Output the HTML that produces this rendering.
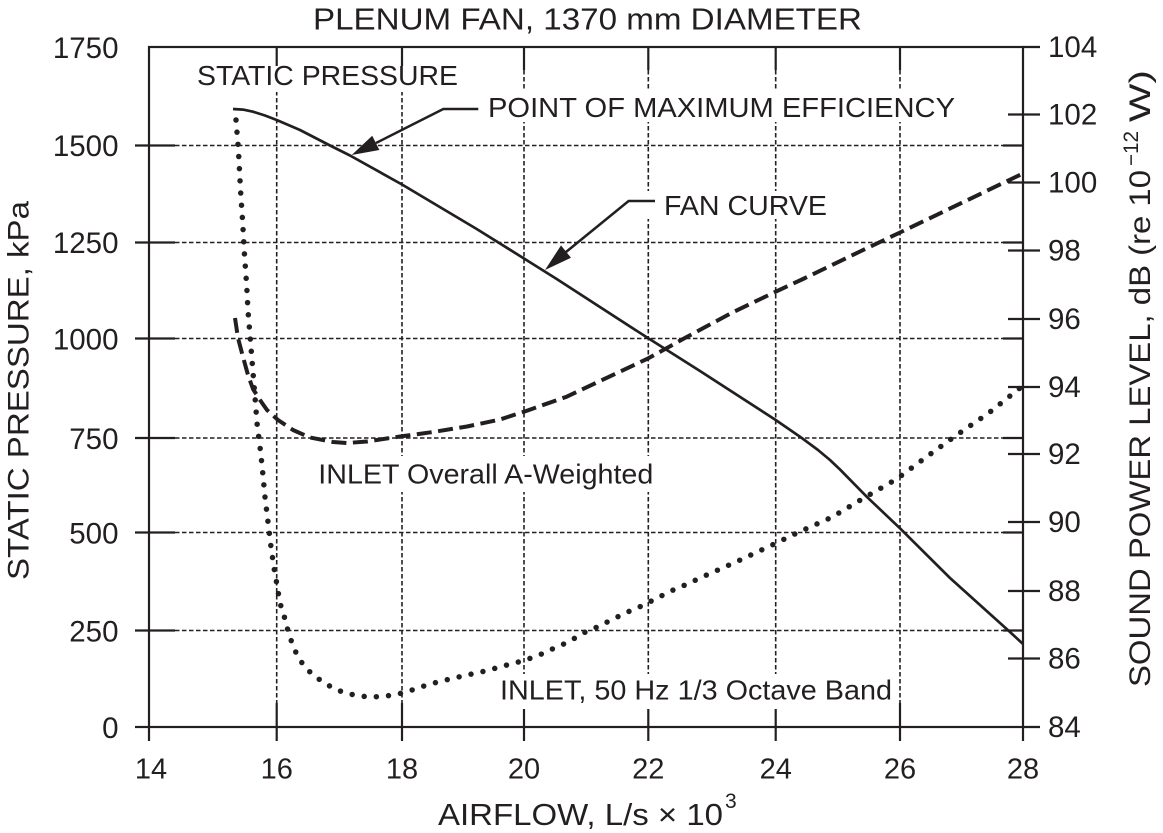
<!DOCTYPE html>
<html>
<head>
<meta charset="utf-8">
<style>
  html, body { margin: 0; padding: 0; background: #ffffff; }
  svg { display: block; }
  text { font-family: "Liberation Sans", Arial, sans-serif; fill: #231f20; }
</style>
</head>
<body>
<svg xmlns="http://www.w3.org/2000/svg" width="1163" height="833" viewBox="0 0 1163 833">
  <rect x="0" y="0" width="1163" height="833" fill="#ffffff"/>

  <!-- dashed grid lines -->
  <g stroke="#231f20" stroke-width="1.6" stroke-dasharray="4.5 2.5" fill="none">
    <line x1="175" y1="145.5" x2="1003" y2="145.5"/>
    <line x1="175" y1="242.5" x2="1003" y2="242.5"/>
    <line x1="175" y1="338.5" x2="1003" y2="338.5"/>
    <line x1="175" y1="438" x2="1003" y2="438"/>
    <line x1="175" y1="532.5" x2="1003" y2="532.5"/>
    <line x1="175" y1="630.5" x2="1003" y2="630.5"/>
    <line x1="276.7" y1="70" x2="276.7" y2="703"/>
    <line x1="402" y1="70" x2="402" y2="703"/>
    <line x1="524" y1="70" x2="524" y2="703"/>
    <line x1="648.3" y1="70" x2="648.3" y2="703"/>
    <line x1="775.7" y1="70" x2="775.7" y2="703"/>
    <line x1="900" y1="70" x2="900" y2="703"/>
  </g>

  <!-- solid ticks -->
  <g stroke="#231f20" stroke-width="2.2" fill="none">
    <line x1="135" y1="145.5" x2="175" y2="145.5"/>
    <line x1="135" y1="242.5" x2="175" y2="242.5"/>
    <line x1="135" y1="338.5" x2="175" y2="338.5"/>
    <line x1="135" y1="438" x2="175" y2="438"/>
    <line x1="135" y1="532.5" x2="175" y2="532.5"/>
    <line x1="135" y1="630.5" x2="175" y2="630.5"/>
    <line x1="135" y1="727" x2="149" y2="727"/>
    <line x1="1003" y1="145.5" x2="1023" y2="145.5"/>
    <line x1="1003" y1="242.5" x2="1023" y2="242.5"/>
    <line x1="1003" y1="338.5" x2="1023" y2="338.5"/>
    <line x1="1003" y1="438" x2="1023" y2="438"/>
    <line x1="1003" y1="532.5" x2="1023" y2="532.5"/>
    <line x1="1003" y1="630.5" x2="1023" y2="630.5"/>
    <line x1="1023" y1="47" x2="1040" y2="47"/>
    <line x1="1008" y1="114.5" x2="1040" y2="114.5"/>
    <line x1="1008" y1="182.5" x2="1040" y2="182.5"/>
    <line x1="1008" y1="250.5" x2="1040" y2="250.5"/>
    <line x1="1008" y1="319" x2="1040" y2="319"/>
    <line x1="1008" y1="387" x2="1040" y2="387"/>
    <line x1="1008" y1="454" x2="1040" y2="454"/>
    <line x1="1008" y1="522" x2="1040" y2="522"/>
    <line x1="1008" y1="591" x2="1040" y2="591"/>
    <line x1="1008" y1="658.5" x2="1040" y2="658.5"/>
    <line x1="1023" y1="727" x2="1040" y2="727"/>
    <line x1="149" y1="727" x2="149" y2="741"/>
    <line x1="276.7" y1="703" x2="276.7" y2="741"/>
    <line x1="402" y1="703" x2="402" y2="741"/>
    <line x1="524" y1="703" x2="524" y2="741"/>
    <line x1="648.3" y1="703" x2="648.3" y2="741"/>
    <line x1="775.7" y1="703" x2="775.7" y2="741"/>
    <line x1="900" y1="703" x2="900" y2="741"/>
    <line x1="1023" y1="727" x2="1023" y2="741"/>
    <line x1="276.7" y1="47" x2="276.7" y2="70"/>
    <line x1="402" y1="47" x2="402" y2="70"/>
    <line x1="524" y1="47" x2="524" y2="70"/>
    <line x1="648.3" y1="47" x2="648.3" y2="70"/>
    <line x1="775.7" y1="47" x2="775.7" y2="70"/>
    <line x1="900" y1="47" x2="900" y2="70"/>
    <rect x="149" y="47" width="874" height="680"/>
  </g>

  <!-- white label backgrounds -->
  <g fill="#ffffff">
    <rect x="190" y="66" width="275" height="26"/>
    <rect x="483" y="91" width="477" height="31"/>
    <rect x="640" y="191" width="193" height="28"/>
    <rect x="313" y="456" width="346" height="36"/>
    <rect x="494" y="674" width="401" height="35"/>
  </g>

  <!-- fan curve (solid) -->
  <path d="M233,109 L243,109.6 L253,111.7 L265,115.5 L276.7,120 L300,130 L330,145.5 L350,155.5 L402,184.5 L476.7,229 L524,258.5 L556.7,279 L648.3,338.3 L700,371 L775.7,420 L800,436.7 L818,450 L830,460 L840,469.5 L866.7,496.7 L900,528.3 L950,578 L1010,632 L1023,644"
        fill="none" stroke="#231f20" stroke-width="2.7" stroke-linejoin="round"/>

  <!-- overall A-weighted (dashed) -->
  <path d="M235,318 L238,338 L243,357 L248,375 L253,389 L260,400 L267,410 L278,420 L293,430 L310,437.5 L333,442 L347,443 L367,441.5 L400,436.5 L433,432 L467,426.5 L500,419.5 L524,411.7 L566.7,396.7 L600,381 L648.3,358.3 L686.7,337 L733.3,312 L775.7,291.7 L803,279 L860,251.5 L900,232.5 L1026,172"
        fill="none" stroke="#231f20" stroke-width="4" stroke-dasharray="15 6.5" stroke-linejoin="round"/>

  <!-- 50 Hz band (dotted) -->
  <path d="M236,120 L237.3,136 L238.3,148 L239,161 L239.7,174 L240.3,186 L241,198 L242,212 L242.7,223 L244.5,255 L246.7,285.7 L248,311 L250,335 L252,360 L255,397 L257,423 L260,447 L262,465 L265,497 L268,522 L271,547 L274,568 L277,585 L280,603 L285,619 L288,631 L292,643 L297,655 L304,666 L313,675 L323,682 L333,688 L345,693 L357,695.5 L369,697 L382,696.5 L394,695 L406,692 L418,688 L430,684 L442,681 L454,678 L467,675 L479,672.5 L491,669.5 L503,666 L515,663 L526.7,659.5 L538.3,655.5 L550,650 L561.7,645 L571.7,640 L583.3,633 L595,628 L606.7,622.3 L616.7,617.3 L628.3,611.7 L640,606.7 L650,601.7 L661.7,595.7 L673.3,590 L685,585 L706.7,575 L741.7,559.3 L775.7,543.3 L798.3,532.3 L831.7,517.3 L863.3,498.3 L896.7,479 L926.7,456.7 L956.7,435 L988.3,413.3 L1020,388"
        fill="none" stroke="#231f20" stroke-width="5.5" stroke-dasharray="0 12.2" stroke-linecap="round" stroke-linejoin="round"/>

  <!-- leaders and arrows -->
  <g stroke="#231f20" stroke-width="2.5" fill="none">
    <polyline points="478.3,109 443.3,109 376,143"/>
    <polyline points="655,201 628.6,201 566,252"/>
  </g>
  <g fill="#231f20">
    <polygon points="351.7,155 379.4,150 372.2,135.7"/>
    <polygon points="545,270 571,257.8 561,245.4"/>
  </g>

  <!-- title -->
  <text x="313" y="29.5" font-size="31" textLength="549" lengthAdjust="spacingAndGlyphs">PLENUM FAN, 1370 mm DIAMETER</text>

  <!-- annotation labels -->
  <text x="197" y="85" font-size="28" textLength="261" lengthAdjust="spacingAndGlyphs">STATIC PRESSURE</text>
  <text x="488" y="117" font-size="28" textLength="467" lengthAdjust="spacingAndGlyphs">POINT OF MAXIMUM EFFICIENCY</text>
  <text x="664" y="215" font-size="28" textLength="163" lengthAdjust="spacingAndGlyphs">FAN CURVE</text>
  <text x="318.3" y="483.3" font-size="28" textLength="335" lengthAdjust="spacingAndGlyphs">INLET Overall A-Weighted</text>
  <text x="500" y="699.3" font-size="28" textLength="392" lengthAdjust="spacingAndGlyphs">INLET, 50 Hz 1/3 Octave Band</text>

  <!-- left tick labels -->
  <g font-size="29.5" text-anchor="end">
    <text x="118.5" y="58">1750</text>
    <text x="118.5" y="156">1500</text>
    <text x="118.5" y="253">1250</text>
    <text x="118.5" y="349.5">1000</text>
    <text x="118.5" y="449">750</text>
    <text x="118.5" y="543.5">500</text>
    <text x="118.5" y="641.5">250</text>
    <text x="118.5" y="738">0</text>
  </g>

  <!-- right tick labels -->
  <g font-size="29.5" text-anchor="start">
    <text x="1048" y="57">104</text>
    <text x="1048" y="124.5">102</text>
    <text x="1048" y="192.5">100</text>
    <text x="1048" y="260.5">98</text>
    <text x="1048" y="329">96</text>
    <text x="1048" y="397">94</text>
    <text x="1048" y="464">92</text>
    <text x="1048" y="532">90</text>
    <text x="1048" y="601">88</text>
    <text x="1048" y="668.5">86</text>
    <text x="1048" y="737">84</text>
  </g>

  <!-- bottom tick labels -->
  <g font-size="29" text-anchor="middle">
    <text x="151" y="778.3">14</text>
    <text x="276.7" y="778.3">16</text>
    <text x="402" y="778.3">18</text>
    <text x="524" y="778.3">20</text>
    <text x="648.3" y="778.3">22</text>
    <text x="775.7" y="778.3">24</text>
    <text x="900" y="778.3">26</text>
    <text x="1023" y="778.3">28</text>
  </g>

  <!-- x axis title -->
  <text x="438" y="825" font-size="31" textLength="285" lengthAdjust="spacingAndGlyphs">AIRFLOW, L/s × 10</text>
  <text x="725" y="808" font-size="21">3</text>

  <!-- left axis title -->
  <text transform="translate(28.5,580) rotate(-90)" x="0" y="0" font-size="30" textLength="379" lengthAdjust="spacingAndGlyphs">STATIC PRESSURE, kPa</text>

  <!-- right axis title -->
  <text transform="translate(1150,687) rotate(-90)" x="0" y="0" font-size="30" textLength="517" lengthAdjust="spacingAndGlyphs">SOUND POWER LEVEL, dB (re 10</text>
  <text transform="translate(1138,166) rotate(-90)" x="0" y="0" font-size="21" textLength="35" lengthAdjust="spacingAndGlyphs">−12</text>
  <text transform="translate(1150,122) rotate(-90)" x="0" y="0" font-size="30" textLength="52" lengthAdjust="spacingAndGlyphs">W)</text>
</svg>
</body>
</html>
